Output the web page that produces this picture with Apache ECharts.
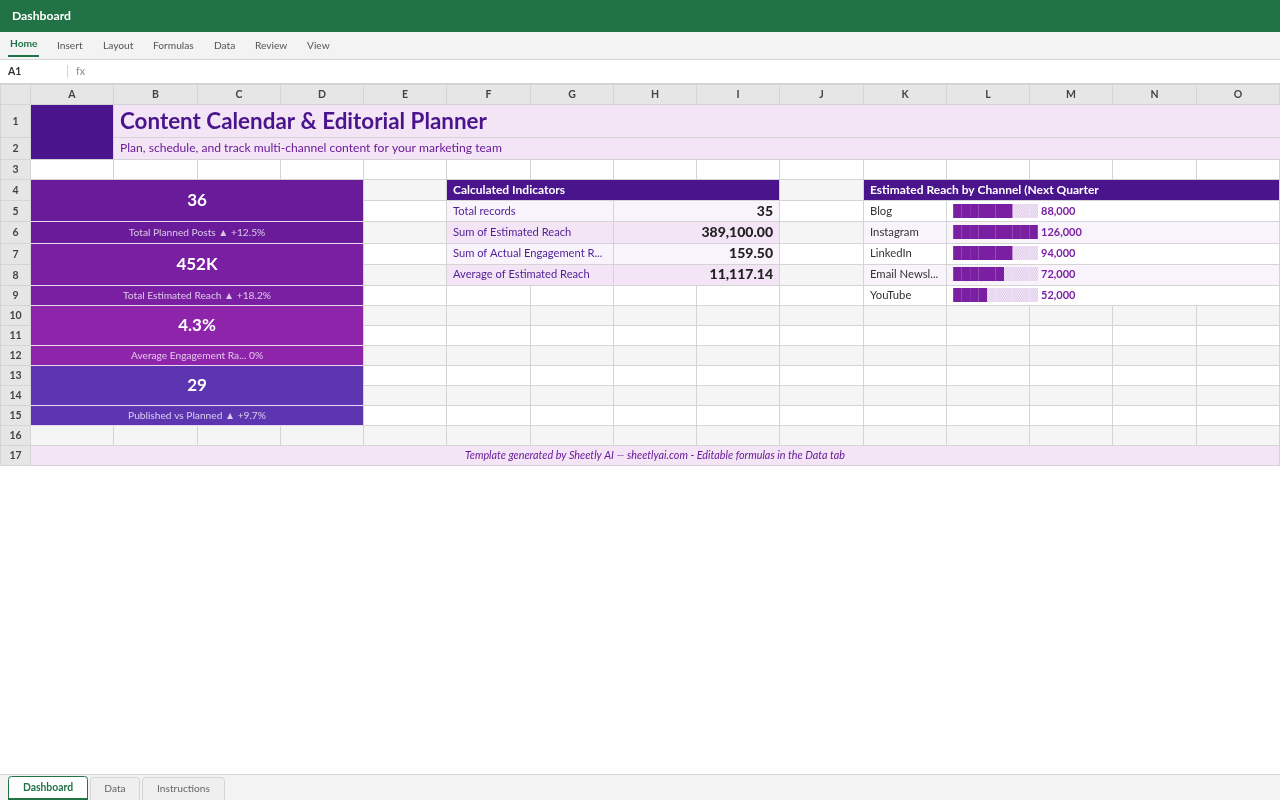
<!DOCTYPE html>
<html>
<head>
<meta charset="utf-8">
<title>Dashboard</title>
<style>html,body{margin:0;padding:0;background:#fff}#main{width:1280px;height:800px}</style>
<script src="https://cdn.jsdelivr.net/npm/echarts@6/dist/echarts.min.js"></script>
</head>
<body>
<div id="main"></div>
<script>
// values
const channels = ['Blog', 'Instagram', 'LinkedIn', 'Email Newsl...', 'YouTube'];
const reachValues = [88000, 126000, 94000, 72000, 52000];
const filledBlocks = [7, 10, 7, 6, 4];
const totalBlocks = [10, 10, 10, 10, 10];

const indicatorNames = ['Total records', 'Sum of Estimated Reach', 'Sum of Actual Engagement R...', 'Average of Estimated Reach'];
const indicatorValues = ['35', '389,100.00', '159.50', '11,117.14'];

const kpiValues = ['36', '452K', '4.3%', '29'];
const kpiLabels = ['Total Planned Posts ▲ +12.5%', 'Total Estimated Reach ▲ +18.2%', 'Average Engagement Ra... 0%', 'Published vs Planned ▲ +9.7%'];
const kpiColors = ['#6a1b9a', '#7b1fa2', '#8e24aa', '#5e35b1'];

const columnNames = ['A', 'B', 'C', 'D', 'E', 'F', 'G', 'H', 'I', 'J', 'K', 'L', 'M', 'N', 'O'];
const menuItems = ['Insert', 'Layout', 'Formulas', 'Data', 'Review', 'View'];
const menuX = [57, 103, 153, 214, 255, 307];

// sheet geometry: pixel of the line closing each column / row
const colLines = [30, 113, 197, 280, 363, 446, 530, 613, 696, 779, 863, 946, 1029, 1112, 1196, 1279];
const rowLines = [104, 137, 159, 179, 200, 221, 243, 264, 285, 305, 325, 345, 365, 385, 405, 425, 445, 465];

const FONT = 'Lato, sans-serif';
const LINE = '#d4d4d4';
const PURPLE_SOFT = '#f9f3fc';
const PURPLE_PALE = '#f3e5f5';
const els = [];

function rect(x, y, w, h, fill) {
  els.push({type: 'rect', shape: {x: x, y: y, width: w, height: h}, style: {fill: fill}, silent: true});
}
function tab(x, y, w, fill, stroke) {
  els.push({type: 'rect', silent: true, shape: {x: x, y: y, width: w, height: 30, r: 3}, style: {fill: fill, stroke: stroke, lineWidth: 1}});
}
function text(x, y, s, size, color, opt) {
  opt = opt || {};
  els.push({type: 'text', silent: true, style: {
    x: x, y: y, text: s, fill: color, align: opt.align || 'left', verticalAlign: 'middle',
    font: (opt.style || '') + ' ' + (opt.weight || 'normal') + ' ' + size + 'px ' + FONT
  }});
}
// sheet row n spans rowLines[n-1]+1 .. rowLines[n]-1
const rowTop = n => rowLines[n - 1] + 1;
const rowH = n => rowLines[n] - rowLines[n - 1] - 1;

// top chrome
rect(0, 0, 1280, 32, '#217346');
text(12, 16.5, 'Dashboard', 12.2, '#ffffff', {weight: 'bold'});
rect(0, 32, 1280, 28, '#f3f3f3');
rect(0, 59, 1280, 1, '#d4d4d4');
text(10, 44, 'Home', 10.2, '#217346', {weight: 'bold'});
rect(8, 55, 31, 2, '#217346');
menuItems.forEach((m, i) => text(menuX[i], 45.5, m, 10.2, '#555555'));
rect(0, 60, 1280, 23, '#ffffff');
text(8, 71.5, 'A1', 10.5, '#333333', {weight: 'bold'});
rect(67, 65, 1, 13, '#d4d4d4');
text(76, 72, 'fx', 10.5, '#888888');
rect(0, 83, 1280, 1, '#d4d4d4');

// row fills
rect(0, 84, 1280, 382, '#ffffff');
[4, 6, 8, 10, 12, 14, 16].forEach(r => rect(31, rowTop(r), 1249, rowH(r), '#f5f5f5'));

// grid lines
colLines.forEach(x => rect(x, 84, 1, 382, LINE));
rowLines.forEach(y => rect(0, y, 1280, 1, LINE));
rect(0, 84, 1, 382, LINE);
rect(0, 84, 1280, 1, LINE);

// table row fills, value columns are merged so the column lines drop out
const indicatorFills = [PURPLE_SOFT, PURPLE_PALE, PURPLE_SOFT, PURPLE_PALE];
indicatorFills.forEach((f, i) => {
  const r = 5 + i;
  rect(447, rowTop(r), 166, rowH(r), f);
  rect(614, rowTop(r), 165, rowH(r), f);
});
const reachFills = ['#ffffff', PURPLE_SOFT, '#ffffff', PURPLE_SOFT, '#ffffff'];
reachFills.forEach((f, i) => {
  const r = 5 + i;
  rect(864, rowTop(r), 82, rowH(r), f);
  rect(947, rowTop(r), 332, rowH(r), f);
});

// headers
rect(1, 85, 29, 19, '#e6e6e6');
columnNames.forEach((c, i) => {
  rect(colLines[i] + 1, 85, colLines[i + 1] - colLines[i] - 1, 19, '#e6e6e6');
  text((colLines[i] + colLines[i + 1]) / 2 + 0.5, 95, c, 10.5, '#444444', {align: 'center', weight: 'bold'});
});
for (let n = 1; n < rowLines.length; n++) {
  rect(1, rowTop(n), 29, rowH(n), '#e6e6e6');
  text(15.5, rowTop(n) + rowH(n) / 2 + 0.5, String(n), 10.5, '#444444', {align: 'center', weight: 'bold'});
}

// title block
rect(31, 105, 82, 54, '#4a148c');
rect(114, 105, 1166, 32, PURPLE_PALE);
rect(114, 138, 1166, 21, PURPLE_PALE);
text(120, 121.5, 'Content Calendar & Editorial Planner', 22.4, '#4a148c', {weight: 'bold'});
text(120, 148, 'Plan, schedule, and track multi-channel content for your marketing team', 12.1, '#6a1b9a');

// KPI cards, three sheet rows each starting at row 4
kpiValues.forEach((v, i) => {
  const r = 4 + i * 3;
  const top = rowTop(r), mid = rowLines[r + 1], bot = rowLines[r + 2];
  rect(31, top, 332, mid - top, kpiColors[i]);
  rect(31, mid + 1, 332, bot - mid - 1, kpiColors[i]);
  text(197, (top + mid) / 2, v, 17, '#ffffff', {align: 'center', weight: 'bold'});
  text(197, (mid + bot) / 2 + 0.5, kpiLabels[i], 10.2, 'rgba(255,255,255,0.75)', {align: 'center'});
  rect(31, bot, 332, 1, '#ead9f0');
  rect(31, mid, 332, 1, '#ead9f0');
});

// indicators table
rect(447, rowTop(4), 332, rowH(4), '#4a148c');
text(453, 190, 'Calculated Indicators', 12, '#ffffff', {weight: 'bold'});
indicatorNames.forEach((n, i) => {
  const y = 211 + i * 21;
  text(453, y, n, 11.15, '#4f1d96');
  text(773, y + 0.5, indicatorValues[i], 14, '#222222', {align: 'right', weight: '900'});
});

// reach table header
rect(864, rowTop(4), 415, rowH(4), '#4a148c');
text(870, 190, 'Estimated Reach by Channel (Next Quarter', 12, '#ffffff', {weight: 'bold'});

// footer
rect(31, 446, 1248, 19, PURPLE_PALE);
text(655, 456, 'Template generated by Sheetly AI — sheetlyai.com - Editable formulas in the Data tab', 10.8, '#6a1b9a', {align: 'center', style: 'italic'});

// sheet tabs
rect(0, 774, 1280, 26, '#f3f3f3');
rect(0, 774, 1280, 1, '#d4d4d4');
tab(90.5, 777.5, 49, '#efefef', '#d4d4d4');
tab(142.5, 777.5, 82, '#efefef', '#d4d4d4');
tab(8.5, 776.5, 79, '#ffffff', '#217346');
rect(8, 798, 80, 2, '#217346');
text(48, 787.5, 'Dashboard', 10.4, '#217346', {align: 'center', weight: 'bold'});
text(115, 788.5, 'Data', 10.2, '#666666', {align: 'center'});
text(183.5, 788.5, 'Instructions', 10.2, '#666666', {align: 'center'});

// dither used behind the empty blocks
const dither = document.createElement('canvas');
dither.width = dither.height = 2;
const dctx = dither.getContext('2d');
dctx.fillStyle = '#fbf7fd'; dctx.fillRect(0, 0, 2, 2);
dctx.fillStyle = '#d8bde6'; dctx.fillRect(0, 0, 1, 1); dctx.fillRect(1, 1, 1, 1);

const chart = echarts.init(document.getElementById('main'), null, {renderer: 'canvas'});
chart.setOption({
  animation: false,
  backgroundColor: '#ffffff',
  graphic: {z: 0, elements: els},
  grid: {left: 953, top: 200.5, width: 85, height: 105, containLabel: false, z: 5},
  xAxis: {type: 'value', min: 0, max: 10, show: false},
  yAxis: [
    {
      type: 'category', inverse: true, data: channels, z: 5,
      axisLine: {show: false}, axisTick: {show: false},
      axisLabel: {align: 'left', margin: 83, color: '#333333', fontSize: 11.3, fontFamily: FONT}
    },
    {
      type: 'category', inverse: true, position: 'right', z: 5,
      data: reachValues.map(v => v.toLocaleString('en-US')),
      axisLine: {show: false}, axisTick: {show: false},
      axisLabel: {margin: 3, color: '#7b1fa2', fontSize: 11, fontWeight: 'bold', fontFamily: FONT}
    }
  ],
  series: [
    {
      name: 'Empty', type: 'pictorialBar', z: 3, data: totalBlocks,
      symbol: 'rect', symbolRepeat: true, symbolSize: [8.5, 14], symbolMargin: 0,
      itemStyle: {color: {image: dither, repeat: 'repeat'}}
    },
    {
      name: 'Estimated Reach', type: 'pictorialBar', z: 4, data: filledBlocks,
      symbol: 'rect', symbolRepeat: true, symbolSize: [8.5, 14], symbolMargin: 0,
      itemStyle: {color: '#7b1fa2', borderColor: 'rgba(225,205,240,0.4)', borderWidth: 0.5}
    }
  ]
});
</script>
</body>
</html>
